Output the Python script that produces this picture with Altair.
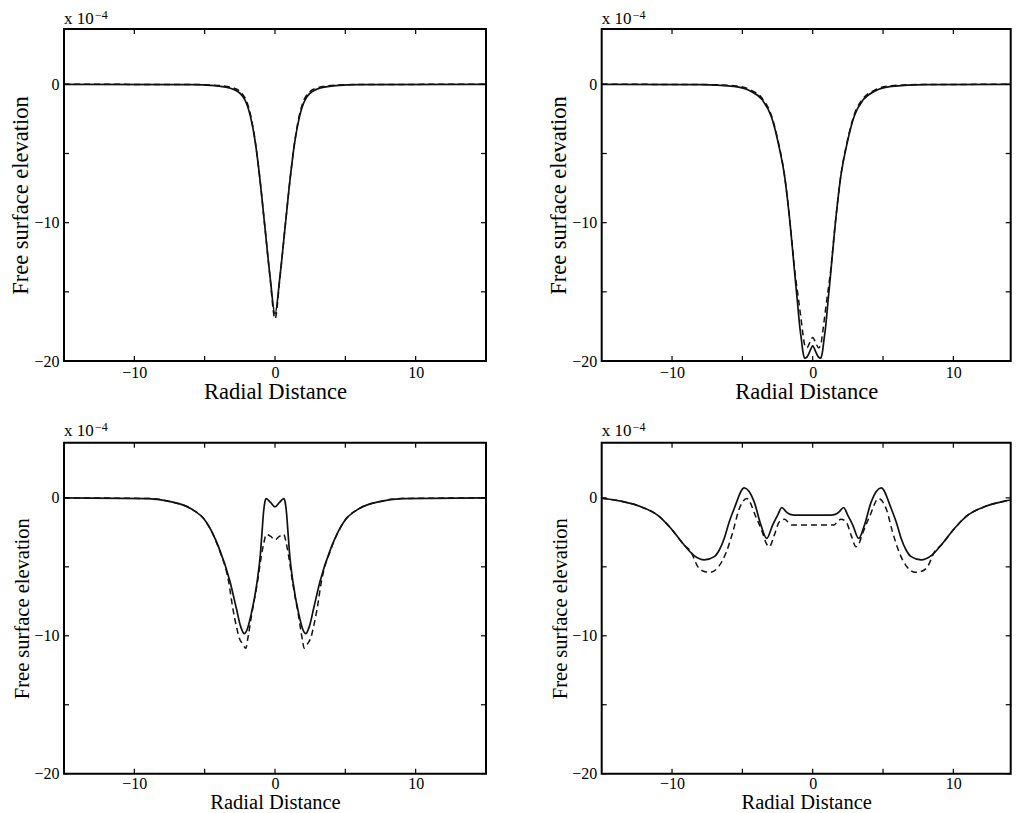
import altair as alt
import pandas as pd

FONT = "Liberation Serif"
INK = "#111111"

X_TICKS = [-10, -5, 0, 5, 10]
Y_TICKS = [-20, -15, -10, -5, 0]
X_LABELS = [-10, 0, 10]
Y_LABELS = [-20, -10, 0]
X_MIN, X_MAX = -15, 15
Y_DOMAIN = [-20, 4]

# Half profiles (x >= 0); curves are symmetric about x = 0. Units of 1e-4.
P1_X_SOLID = [0, 0.35, 0.73, 1.1, 1.4, 1.75, 2.15, 2.9, 4.3, 6, 15]
P1_Y_SOLID = [-16.6, -13.9, -10.2, -6.6, -4.2, -2.3, -1.1, -0.38, -0.1, -0.02, 0]
P1_X_DASH = [0, 0.35, 0.73, 1.1, 1.4, 1.75, 2.15, 2.9, 4.3, 6, 15]
P1_Y_DASH = [-16.95, -14.0, -10.2, -6.6, -4.15, -2.15, -0.95, -0.28, -0.06, -0.01, 0]

P2_X_SOLID = [0, 0.2, 0.4, 0.57, 0.7, 0.81, 0.9, 1.07, 1.26, 1.59, 2.0, 2.45, 2.95, 3.6, 4.4, 5.6, 8, 15]
P2_Y_SOLID = [-18.9, -19.3, -19.7, -19.8, -19.3, -18.4, -17.7, -15.9, -13.86, -10.25, -6.64, -4.24, -2.31, -1.1, -0.5, -0.15, -0.02, 0]
P2_X_DASH = [0, 0.2, 0.42, 0.58, 0.7, 0.8, 1.0, 1.26, 1.59, 2.0, 2.45, 2.95, 3.6, 4.4, 5.6, 8, 15]
P2_Y_DASH = [-18.3, -18.65, -19.05, -18.8, -18.0, -17.2, -15.6, -13.6, -10.2, -6.6, -4.15, -2.2, -1.0, -0.42, -0.1, -0.01, 0]

P3_X_SOLID = [0, 0.3, 0.63, 0.72, 0.82, 0.92, 1.05, 1.27, 1.7, 2.0, 2.18, 2.45, 2.75, 3.2, 3.97, 4.9, 6.0, 7.35, 9, 15]
P3_Y_SOLID = [-0.65, -0.35, -0.05, -0.3, -1.1, -2.45, -4.2, -6.06, -8.47, -9.6, -9.85, -9.3, -8.0, -6.06, -3.66, -1.73, -0.77, -0.29, -0.05, 0]
P3_X_DASH = [0, 0.3, 0.62, 0.8, 1.0, 1.24, 1.66, 1.95, 2.07, 2.3, 2.56, 2.75, 3.0, 3.3, 4.0, 4.9, 6.0, 7.35, 9, 15]
P3_Y_DASH = [-3.05, -2.8, -2.65, -3.3, -4.4, -6.06, -8.47, -10.3, -10.9, -10.6, -10.1, -9.3, -8.0, -6.06, -3.66, -1.73, -0.77, -0.29, -0.05, 0]

P4_X_SOLID = [0, 1.3, 1.6, 1.9, 2.19, 2.49, 2.85, 3.27, 3.68, 4.16, 4.87, 5.58, 5.93, 6.29, 6.64, 7.0, 7.71, 8.43, 9.14, 10.09, 11.03, 12.2, 13.64, 15]
P4_Y_SOLID = [-1.25, -1.25, -1.2, -1.0, -0.7, -1.25, -1.97, -2.94, -1.97, -0.29, 0.72, -0.77, -1.73, -2.94, -3.78, -4.26, -4.5, -4.19, -3.42, -2.2, -1.25, -0.65, -0.24, -0.03]
P4_X_DASH = [0, 1.5, 1.75, 2.0, 2.37, 2.73, 3.08, 3.3, 3.54, 4.04, 4.68, 5.25, 5.67, 6.17, 6.7, 7.3, 7.8, 8.16, 8.66, 9.14, 10.09, 11.03, 12.2, 13.64, 15]
P4_Y_DASH = [-1.97, -1.97, -1.75, -1.55, -1.73, -2.7, -3.54, -3.3, -2.6, -1.37, -0.05, -0.87, -2.45, -4.0, -5.0, -5.4, -5.3, -5.0, -3.9, -3.42, -2.2, -1.25, -0.65, -0.24, -0.03]

W_LEFT, W_RIGHT, H_TOP, H_BOT = 422, 409, 332, 331


def mirror(xs, ys):
    fx = [-v for v in reversed(xs[1:])] + list(xs)
    fy = list(reversed(ys[1:])) + list(ys)
    return pd.DataFrame({"x": fx, "y": fy})


def panel(xs_s, ys_s, xs_d, ys_d, W, H, tsize, lpad, tpad, sup_y):
    # right-hand panels run past the page edge in the original: same scale,
    # view simply cut at the right
    xmax = X_MIN + W * (X_MAX - X_MIN) / W_LEFT
    xs = alt.Scale(domain=[X_MIN, xmax], nice=False, zero=False)
    ys = alt.Scale(domain=Y_DOMAIN, nice=False, zero=False)
    xaxis = alt.Axis(values=X_LABELS, ticks=False, domain=False, grid=False,
                     labelFont=FONT, labelFontSize=16, labelColor="black",
                     labelPadding=lpad, title="Radial Distance", titleFont=FONT,
                     titleFontSize=tsize, titleFontWeight="normal",
                     titleColor="black", titlePadding=tpad)
    yaxis = alt.Axis(values=Y_LABELS, ticks=False, domain=False, grid=False,
                     labelFont=FONT, labelFontSize=16, labelColor="black",
                     labelPadding=5, title="Free surface elevation",
                     titleFont=FONT, titleFontSize=tsize,
                     titleFontWeight="normal", titleColor="black",
                     titlePadding=1)
    X = lambda: alt.X("x:Q", scale=xs, axis=xaxis)
    Y = lambda: alt.Y("y:Q", scale=ys, axis=yaxis)
    solid = alt.Chart(mirror(xs_s, ys_s)).mark_line(
        interpolate="monotone", clip=True, strokeWidth=1.7, color=INK
    ).encode(x=X(), y=Y())
    dashed = alt.Chart(mirror(xs_d, ys_d)).mark_line(
        interpolate="monotone", clip=True, strokeWidth=1.5, color=INK,
        strokeDash=[6, 4]
    ).encode(x=X(), y=Y())
    xt = pd.DataFrame({"x": X_TICKS})
    yt = pd.DataFrame({"y": Y_TICKS})
    tb = alt.Chart(xt).mark_rule(color="black", strokeWidth=1.2).encode(
        x=X(), y=alt.value(H), y2=alt.value(H - 5))
    tt = alt.Chart(xt).mark_rule(color="black", strokeWidth=1.2).encode(
        x=X(), y=alt.value(0), y2=alt.value(5))
    tl = alt.Chart(yt).mark_rule(color="black", strokeWidth=1.2).encode(
        y=Y(), x=alt.value(0), x2=alt.value(5))
    tr = alt.Chart(yt).mark_rule(color="black", strokeWidth=1.2).encode(
        y=Y(), x=alt.value(W), x2=alt.value(W - 5))
    mult = alt.Chart(pd.DataFrame({"t": ["x 10"]})).mark_text(
        font=FONT, fontSize=17, align="left", baseline="alphabetic", color="black"
    ).encode(x=alt.value(0), y=alt.value(sup_y), text="t:N")
    sup = alt.Chart(pd.DataFrame({"t": ["\u22124"]})).mark_text(
        font=FONT, fontSize=12, align="left", baseline="alphabetic", color="black"
    ).encode(x=alt.value(31), y=alt.value(sup_y - 5), text="t:N")
    return alt.layer(solid, dashed, tb, tt, tl, tr, mult, sup).properties(
        width=W, height=H)


p1 = panel(P1_X_SOLID, P1_Y_SOLID, P1_X_DASH, P1_Y_DASH, W_LEFT, H_TOP, 22.5, 3, 0, -5)
p2 = panel(P2_X_SOLID, P2_Y_SOLID, P2_X_DASH, P2_Y_DASH, W_RIGHT, H_TOP, 22.5, 3, 0, -5)
p3 = panel(P3_X_SOLID, P3_Y_SOLID, P3_X_DASH, P3_Y_DASH, W_LEFT, H_BOT, 20.5, 2, 1, -7)
p4 = panel(P4_X_SOLID, P4_Y_SOLID, P4_X_DASH, P4_Y_DASH, W_RIGHT, H_BOT, 20.5, 2, 1, -7)

chart = alt.concat(
    p1, p2, p3, p4, columns=2,
    spacing={"row": 81.7, "column": 115.7}, bounds="flush",
).properties(
    padding={"left": 0, "top": 0, "right": 0, "bottom": 0},
    background="white",
).configure(font=FONT).configure_view(stroke="black", strokeWidth=2)

chart.save("out.html", embed_options={"renderer": "svg", "actions": False})
